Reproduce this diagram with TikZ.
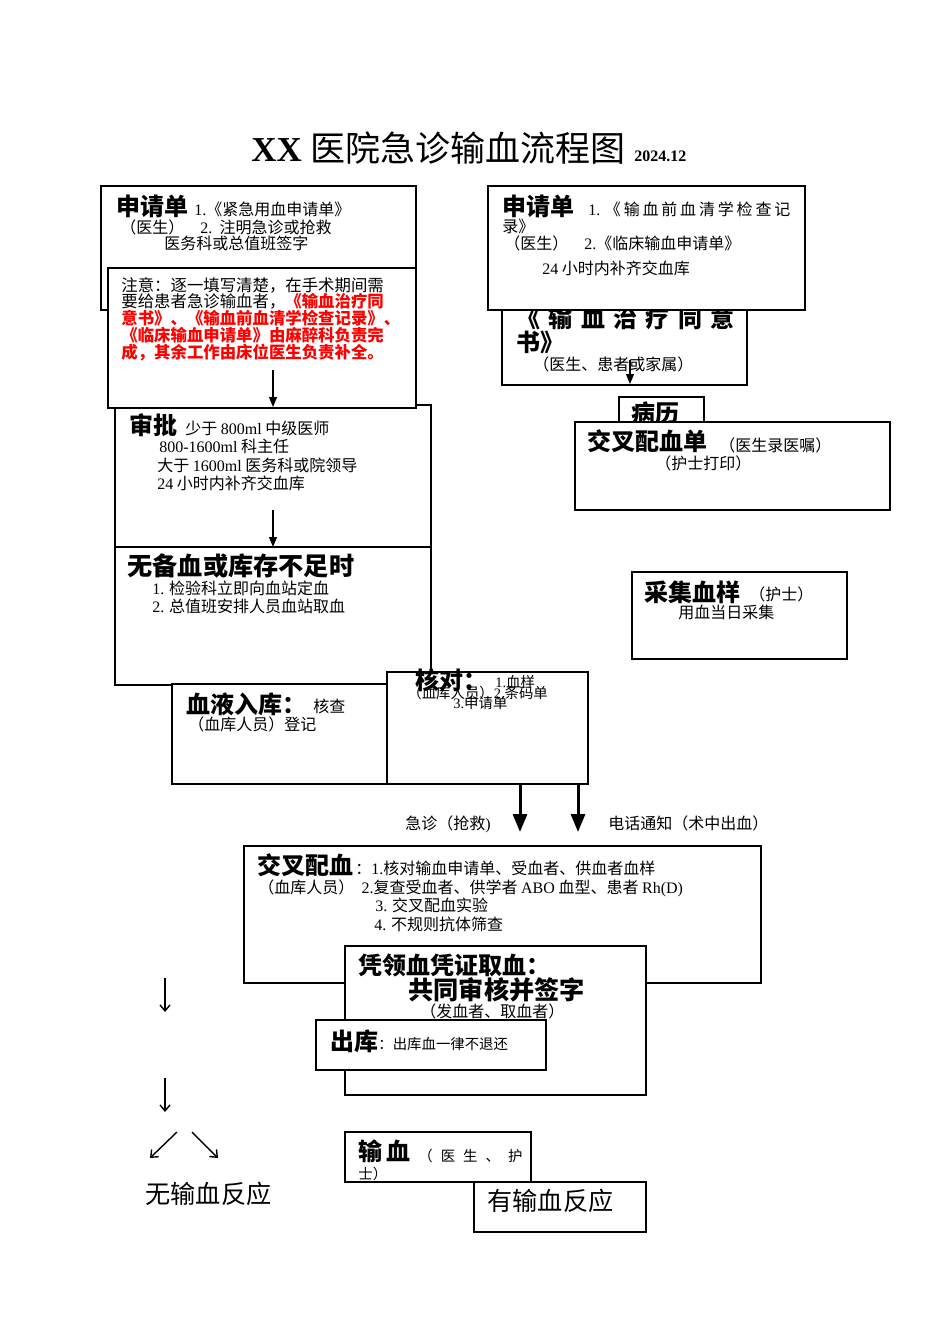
\documentclass[tikz,border=0pt]{standalone}
\usepackage{fontspec}
\setmainfont{Liberation Serif}
\newfontfamily\cjk{Noto Sans CJK SC}
\usetikzlibrary{fit,arrows.meta}

\newcommand\lat[1]{{\rmfamily #1}}
\newcommand\spread[2]{\makebox[#1][s]{#2}}

\begin{document}
\begin{tikzpicture}[x=0.5pt,y=-0.5pt,
  box/.style={draw,fill=white,line width=0.55pt,inner sep=0pt},
  txt/.style={anchor=base west,inner sep=0pt,font=\cjk\fontsize{8}{8.5}\selectfont},
  small/.style={anchor=base west,inner sep=0pt,font=\cjk\fontsize{7.2}{7.5}\selectfont},
  notetxt/.style={anchor=base west,inner sep=0pt,font=\cjk\fontsize{8.2}{9}\selectfont},
  head/.style={anchor=base west,inner sep=0pt,font=\cjk\bfseries\fontsize{12}{12}\selectfont},
  tip/.style={-{Triangle[width=4pt,length=5pt]},line width=0.6pt},
  bigtip/.style={-{Triangle[width=7pt,length=9pt]},line width=1.5pt},
  barb/.style={-{Straight Barb[width=5pt,length=3pt]},line width=0.7pt}]
\useasboundingbox (0,0) rectangle (950,1344);

% title
\node[anchor=base west,inner sep=0pt] (title) at (251,161)
  {\fontsize{17.5}{18}\selectfont\bfseries XX {\cjk\mdseries 医院急诊输血流程图} {\fontsize{8}{8}\selectfont 2024.12}};

% left column
\node[box,fit={(101,186) (416,310)}] (reqA) {};
\node[head] (reqAh) at (116,215) {申请单};
\node[txt] (reqA1) at (194,215) {\lat{1.}《紧急用血申请单》};
\node[txt] (reqA2) at (120,233) {（医生）\quad\lat{2.}\ \ 注明急诊或抢救};
\node[txt] (reqA3) at (164,249) {医务科或总值班签字};

\node[box,fit={(115,405) (431,547)}] (appr) {};
\node[head] (apprh) at (129,434) {审批};
\node[txt] (appr1) at (185,434) {少于 \lat{800ml} 中级医师};
\node[txt] (appr2) at (159,452) {\lat{800-1600ml} 科主任};
\node[txt] (appr3) at (157,471) {大于 \lat{1600ml} 医务科或院领导};
\node[txt] (appr4) at (157,489) {\lat{24} 小时内补齐交血库};
\coordinate (apprA) at (273,510);
\coordinate (apprB) at (273,547);
\draw[tip] (apprA) -- (apprB);

\node[box,fit={(115,547) (431,685)}] (lack) {};
\node[head,font=\cjk\bfseries\fontsize{12.6}{13}\selectfont] (lackh) at (127,575) {无备血或库存不足时};
\node[txt] (lack1) at (152,594) {\lat{1.} 检验科立即向血站定血};
\node[txt] (lack2) at (152,612) {\lat{2.} 总值班安排人员血站取血};

\node[box,fit={(108,268) (416,408)}] (note) {};
\node[notetxt] (note1) at (121,291) {注意：逐一填写清楚，在手术期间需};
\node[notetxt] (note2) at (121,307) {要给患者急诊输血者，\textcolor{red}{\bfseries 《输血治疗同}};
\node[notetxt,text=red,font=\cjk\bfseries\fontsize{8.2}{9}\selectfont] (note3) at (121,324) {意书》、《输血前血清学检查记录》、};
\node[notetxt,text=red,font=\cjk\bfseries\fontsize{8.2}{9}\selectfont] (note4) at (121,341) {《临床输血申请单》由麻醉科负责完};
\node[notetxt,text=red,font=\cjk\bfseries\fontsize{8.2}{9}\selectfont] (note5) at (121,358) {成，其余工作由床位医生负责补全。};
\coordinate (noteA) at (273,370);
\coordinate (noteB) at (273,407);
\draw[tip] (noteA) -- (noteB);

\node[box,fit={(172,684) (387,784)}] (store) {};
\node[head] (storeh) at (186,713) {血液入库：};
\node[txt] (store1) at (313,712) {核查};
\node[txt] (store2) at (188,730) {（血库人员）登记};

\node[box,fit={(387,672) (588,784)}] (check) {};
\node[head] (checkh) at (415,689) {核对：};
\node[small] (check1) at (495,687) {\lat{1.}血样};
\node[small] (check2) at (407,698) {（血库人员）\lat{2.}条码单};
\node[small] (check3) at (453,708) {\lat{3.}申请单};

% right column
\node[box,fit={(502,300) (747,385)}] (consent) {};
\node[head] (consenth) at (516,327) {\spread{109pt}{《 输 血 治 疗 同 意}};
\node[head] (consenth2) at (516,351) {书》};
\node[txt] (consent1) at (533,370) {（医生、患者或家属）};
\coordinate (consA) at (630,360);
\coordinate (consB) at (630,384);
\draw[tip] (consA) -- (consB);

\node[box,fit={(488,186) (805,310)}] (reqB) {};
\node[head] (reqBh) at (502,215) {申请单};
\node[txt] (reqB1) at (588,215) {\spread{101pt}{\lat{1.} 《 输 血 前 血 清 学 检 查 记}};
\node[txt] (reqB2) at (502,232) {录》};
\node[txt] (reqB3) at (504,249) {（医生）\quad\lat{2.}《临床输血申请单》};
\node[txt] (reqB4) at (542,274) {\lat{24} 小时内补齐交血库};

\node[box,fit={(619,397) (704,440)}] (record) {};
\node[head] (recordh) at (631,422) {病历};

\node[box,fit={(575,422) (890,510)}] (xform) {};
\node[head] (xformh) at (587,450) {交叉配血单};
\node[txt] (xform1) at (719,451) {（医生录医嘱）};
\node[txt] (xform2) at (655,469) {（护士打印）};

\node[box,fit={(632,572) (847,659)}] (sample) {};
\node[head] (sampleh) at (644,601) {采集血样};
\node[txt] (sample1) at (749,600) {（护士）};
\node[txt] (sample2) at (678,618) {用血当日采集};

% two ways out of the blood bank
\coordinate (urgA) at (520,784);
\coordinate (urgB) at (520,832);
\coordinate (telA) at (578,784);
\coordinate (telB) at (578,832);
\draw[bigtip] (urgA) -- (urgB);
\draw[bigtip] (telA) -- (telB);
\node[txt] (urg) at (405,829) {急诊（抢救\lat{)}};
\node[txt] (tel) at (608,829) {电话通知（术中出血）};

% lower part
\node[box,fit={(244,846) (761,983)}] (xmatch) {};
\node[head] (xmatchh) at (257,874) {交叉配血};
\node[txt] (xmatch1) at (355,874) {：\lat{1.}核对输血申请单、受血者、供血者血样};
\node[txt] (xmatch2) at (258,893) {（血库人员）\ \ \lat{2.}复查受血者、供学者 \lat{ABO} 血型、患者 \lat{Rh(D)}};
\node[txt] (xmatch3) at (375,911) {\lat{3.} 交叉配血实验};
\node[txt] (xmatch4) at (374,930) {\lat{4.} 不规则抗体筛查};

\node[box,fit={(345,946) (646,1095)}] (issue) {};
\node[head] (issueh) at (358,974) {凭领血凭证取血：};
\node[head,font=\cjk\bfseries\fontsize{12.6}{13}\selectfont] (issueh2) at (408,999) {共同审核并签字};
\node[txt] (issue1) at (420,1017) {（发血者、取血者）};

\node[box,fit={(316,1020) (546,1070)}] (out) {};
\node[head] (outh) at (330,1050) {出库};
\node[small] (out1) at (378,1049) {：出库血一律不退还};

\node[box,fit={(345,1132) (531,1182)}] (trans) {};
\node[head] (transh) at (358,1160) {输\,血};
\node[small] (trans1) at (418,1161) {\spread{52pt}{（ 医 生 、 护}};
\begin{scope}
\clip (345,1132) rectangle (531,1179);
\node[small] (trans2) at (358,1179) {士）};
\end{scope}

\node[box,fit={(474,1182) (646,1232)}] (react) {};
\node[head,font=\cjk\fontsize{12.6}{13}\selectfont] (reacth) at (487,1210) {有输血反应};

% left branch
\coordinate (l1a) at (165,978);
\coordinate (l1b) at (165,1012);
\coordinate (l2a) at (165,1078);
\coordinate (l2b) at (165,1112);
\draw[barb] (l1a) -- (l1b);
\draw[barb] (l2a) -- (l2b);
\coordinate (dlA) at (177,1132);
\coordinate (dlB) at (150,1158);
\coordinate (drA) at (192,1132);
\coordinate (drB) at (218,1158);
\draw[barb] (dlA) -- (dlB);
\draw[barb] (drA) -- (drB);
\node[head,font=\cjk\fontsize{12.6}{13}\selectfont] (noreact) at (145,1203) {无输血反应};
\end{tikzpicture}
\end{document}
